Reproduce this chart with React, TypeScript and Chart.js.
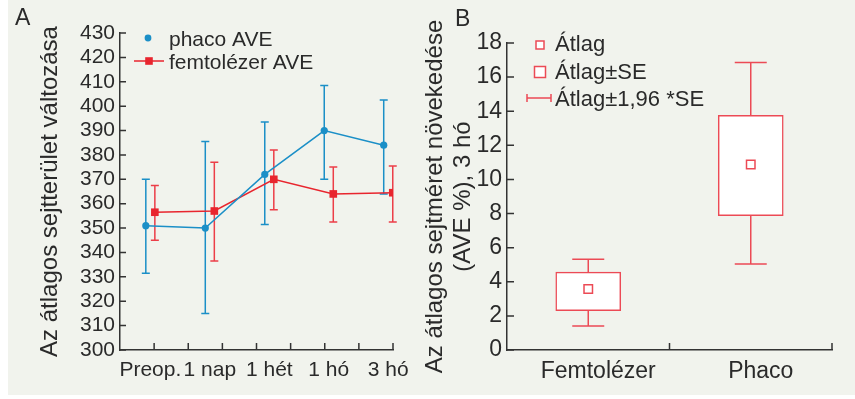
import React, { useEffect, useRef } from 'react';
import { Chart, registerables } from 'chart.js';

Chart.register(...registerables);

const FONT = '"Liberation Sans", Arial, sans-serif';
const BG = '#f1f3ed';
const BLUE = '#1b8fc7';
const RED = '#e8252e';
const RED_B = '#ec4a55';
const AXIS = '#333333';
const TEXT = '#2a2a2a';

// Panel A data
const timepoints = ['Preop.', '1 nap', '1 hét', '1 hó', '3 hó'];
const phacoMean = [351, 350, 372, 390, 384];
const phacoLow = [331.5, 315, 351.5, 370, 364];
const phacoHigh = [370, 385.5, 393.5, 408.5, 402.5];
const femtoMean = [356.5, 357, 370, 364, 364.5];
const femtoLow = [345, 336.5, 357.5, 352.5, 352.5];
const femtoHigh = [367.5, 377, 382, 375, 375.5];

// Panel B data
const groups = ['Femtolézer', 'Phaco'];
const meanB = [3.58, 10.87];
const seLowB = [2.3, 7.88];
const seHighB = [4.57, 13.76];
const ciLowB = [1.4, 5.04];
const ciHighB = [5.32, 16.86];

const SHIFT = 0.076;

const plotA = {
  id: 'plotA',
  beforeDatasetsDraw(chart: any) {
    const { ctx } = chart;
    const x = chart.scales.x;
    const y = chart.scales.y;
    chart.data.datasets.forEach((ds: any) => {
      if (!ds.errLow) return;
      ctx.save();
      ctx.strokeStyle = ds.errColor;
      ctx.lineWidth = 1.5;
      ds.data.forEach((p: any, i: number) => {
        const px = x.getPixelForValue(p.x);
        const yl = y.getPixelForValue(ds.errLow[i]);
        const yh = y.getPixelForValue(ds.errHigh[i]);
        ctx.beginPath();
        ctx.moveTo(px, yl);
        ctx.lineTo(px, yh);
        ctx.moveTo(px - 4, yh);
        ctx.lineTo(px + 4, yh);
        ctx.moveTo(px - 4, yl);
        ctx.lineTo(px + 4, yl);
        ctx.stroke();
      });
      ctx.restore();
    });
  },
  afterDraw(chart: any) {
    const { ctx, chartArea: ca } = chart;
    const y = chart.scales.y;
    ctx.save();
    ctx.strokeStyle = AXIS;
    ctx.lineWidth = 1.5;
    ctx.beginPath();
    y.ticks.forEach((t: any) => {
      const py = y.getPixelForValue(t.value);
      ctx.moveTo(ca.left, py);
      ctx.lineTo(ca.left + 6, py);
    });
    for (let k = 1; k <= 8; k++) {
      const px = ca.left + ((ca.right - ca.left) * k) / 8;
      ctx.moveTo(px, ca.bottom);
      ctx.lineTo(px, ca.bottom - 7);
    }
    ctx.stroke();

    // panel letter
    ctx.fillStyle = TEXT;
    ctx.font = `23px ${FONT}`;
    ctx.textBaseline = 'alphabetic';
    ctx.textAlign = 'left';
    ctx.fillText('A', 7, 25);

    // legend
    ctx.font = `21px ${FONT}`;
    ctx.fillText('phaco AVE', 161, 46);
    ctx.fillText('femtolézer AVE', 161, 69);
    ctx.fillStyle = BLUE;
    ctx.beginPath();
    ctx.arc(140, 38, 3.4, 0, Math.PI * 2);
    ctx.fill();
    ctx.strokeStyle = RED;
    ctx.lineWidth = 1.5;
    ctx.beginPath();
    ctx.moveTo(126, 61);
    ctx.lineTo(156, 61);
    ctx.stroke();
    ctx.fillStyle = RED;
    ctx.fillRect(141 - 3.8, 61 - 3.8, 7.6, 7.6);
    ctx.restore();
  },
};

const plotB = {
  id: 'plotB',
  beforeDatasetsDraw(chart: any) {
    const { ctx } = chart;
    const x = chart.scales.x;
    const y = chart.scales.y;
    ctx.save();
    ctx.strokeStyle = RED_B;
    ctx.lineWidth = 1.5;
    groups.forEach((_, i) => {
      const px = x.getPixelForValue(i);
      const segs = [
        [seHighB[i], ciHighB[i]],
        [seLowB[i], ciLowB[i]],
      ];
      segs.forEach(([a, b]) => {
        const ya = y.getPixelForValue(a);
        const yb = y.getPixelForValue(b);
        ctx.beginPath();
        ctx.moveTo(px, ya);
        ctx.lineTo(px, yb);
        ctx.moveTo(px - 16, yb);
        ctx.lineTo(px + 16, yb);
        ctx.stroke();
      });
    });
    ctx.restore();
  },
  afterDraw(chart: any) {
    const { ctx, chartArea: ca } = chart;
    const x = chart.scales.x;
    const y = chart.scales.y;
    ctx.save();
    ctx.strokeStyle = AXIS;
    ctx.lineWidth = 1.5;
    ctx.beginPath();
    y.ticks.forEach((t: any) => {
      const py = y.getPixelForValue(t.value);
      ctx.moveTo(ca.left, py);
      ctx.lineTo(ca.left + 7, py);
    });
    const mid = (x.getPixelForValue(0) + x.getPixelForValue(1)) / 2;
    [mid, ca.right].forEach((px) => {
      ctx.moveTo(px, ca.bottom);
      ctx.lineTo(px, ca.bottom - 7);
    });
    ctx.stroke();

    ctx.fillStyle = TEXT;
    ctx.font = `23px ${FONT}`;
    ctx.textAlign = 'left';
    ctx.textBaseline = 'alphabetic';
    ctx.fillText('B', 35, 26);

    // legend
    ctx.font = `22px ${FONT}`;
    ctx.fillText('Átlag', 135, 51);
    ctx.fillText('Átlag±SE', 135, 79);
    ctx.fillText('Átlag±1,96 *SE', 135, 106);

    ctx.strokeStyle = RED_B;
    ctx.fillStyle = '#ffffff';
    ctx.lineWidth = 1.5;
    ctx.fillRect(120 - 4, 45 - 4, 8, 8);
    ctx.strokeRect(120 - 4, 45 - 4, 8, 8);
    ctx.fillRect(120 - 5.5, 72 - 5.5, 11, 11);
    ctx.strokeRect(120 - 5.5, 72 - 5.5, 11, 11);
    ctx.beginPath();
    ctx.moveTo(107, 98);
    ctx.lineTo(131, 98);
    ctx.moveTo(107, 94);
    ctx.lineTo(107, 102);
    ctx.moveTo(131, 94);
    ctx.lineTo(131, 102);
    ctx.stroke();
    ctx.restore();
  },
};

function PanelA() {
  const ref = useRef<HTMLCanvasElement>(null);
  useEffect(() => {
    const chart = new Chart(ref.current!, {
      type: 'line',
      data: {
        datasets: [
          {
            label: 'phaco AVE',
            data: phacoMean.map((v, i) => ({ x: i - SHIFT, y: v })),
            borderColor: BLUE,
            backgroundColor: BLUE,
            borderWidth: 1.5,
            pointRadius: 3.6,
            pointStyle: 'circle',
            pointBorderWidth: 0,
            errLow: phacoLow,
            errHigh: phacoHigh,
            errColor: BLUE,
          } as any,
          {
            label: 'femtolézer AVE',
            data: femtoMean.map((v, i) => ({ x: i + SHIFT, y: v })),
            borderColor: RED,
            backgroundColor: RED,
            borderWidth: 1.5,
            pointRadius: 5.4,
            pointStyle: 'rect',
            pointBorderWidth: 0,
            errLow: femtoLow,
            errHigh: femtoHigh,
            errColor: '#ec3e48',
          } as any,
        ],
      },
      options: {
        responsive: false,
        animation: false,
        layout: { padding: { top: 33, right: 27, left: 0, bottom: 0 } },
        plugins: { legend: { display: false }, tooltip: { enabled: false } },
        scales: {
          x: {
            type: 'linear',
            min: -0.51,
            max: 4.08,
            afterBuildTicks: (s: any) => {
              s.ticks = timepoints.map((_, i) => ({ value: i }));
            },
            afterFit: (s: any) => {
              s.height = 45;
            },
            ticks: {
              autoSkip: false,
              maxRotation: 0,
              padding: 8,
              color: TEXT,
              font: { size: 21, family: FONT },
              callback: (_v: any, i: number) => timepoints[i],
            },
            grid: { display: false, drawTicks: false },
            border: { display: true, color: AXIS, width: 1.5 },
          },
          y: {
            min: 300,
            max: 430,
            afterFit: (s: any) => {
              s.width = 112;
            },
            ticks: {
              stepSize: 10,
              autoSkip: false,
              padding: 5,
              color: TEXT,
              font: { size: 21, family: FONT },
            },
            grid: { display: false, drawTicks: false },
            border: { display: true, color: AXIS, width: 1.5 },
            title: {
              display: true,
              text: 'Az átlagos sejtterület változása',
              color: TEXT,
              font: { size: 24, family: FONT },
              padding: { top: 28, bottom: 0 },
            },
          },
        },
      },
      plugins: [plotA],
    });
    return () => chart.destroy();
  }, []);
  return <canvas ref={ref} width={412} height={395} style={{ position: 'absolute', left: 0, top: 0 }} />;
}

function PanelB() {
  const ref = useRef<HTMLCanvasElement>(null);
  useEffect(() => {
    const chart = new Chart(ref.current!, {
      type: 'bar',
      data: {
        labels: groups,
        datasets: [
          {
            type: 'line',
            label: 'Átlag',
            data: meanB,
            showLine: false,
            pointStyle: 'rect',
            pointRadius: 6,
            pointBorderColor: RED_B,
            pointBackgroundColor: '#ffffff',
            pointBorderWidth: 1.5,
          } as any,
          {
            type: 'bar',
            label: 'Átlag±SE',
            data: seLowB.map((l, i) => [l, seHighB[i]]),
            backgroundColor: '#ffffff',
            borderColor: RED_B,
            borderWidth: 1.5,
            borderSkipped: false,
            barThickness: 65,
          } as any,
        ],
      },
      options: {
        responsive: false,
        animation: false,
        layout: { padding: { top: 43, right: 23, left: 0, bottom: 0 } },
        plugins: { legend: { display: false }, tooltip: { enabled: false } },
        scales: {
          x: {
            afterFit: (s: any) => {
              s.height = 45;
            },
            ticks: {
              padding: 8,
              labelOffset: 10,
              color: TEXT,
              font: { size: 23, family: FONT },
            },
            grid: { display: false, drawTicks: false },
            border: { display: true, color: AXIS, width: 1.5 },
          },
          y: {
            min: 0,
            max: 18,
            afterFit: (s: any) => {
              s.width = 87;
            },
            ticks: {
              stepSize: 2,
              autoSkip: false,
              padding: 5,
              color: TEXT,
              font: { size: 23, family: FONT },
            },
            grid: { display: false, drawTicks: false },
            border: { display: true, color: AXIS, width: 1.5 },
            title: {
              display: true,
              text: ['Az átlagos sejtméret növekedése', '(AVE %), 3 hó'],
              color: TEXT,
              font: { size: 24, family: FONT, lineHeight: 1.167 },
              padding: { top: 1, bottom: 0 },
            },
          },
        },
      },
      plugins: [plotB],
    });
    return () => chart.destroy();
  }, []);
  return <canvas ref={ref} width={435} height={395} style={{ position: 'absolute', left: 412, top: 0 }} />;
}

export default function App() {
  return (
    <div
      style={{
        position: 'absolute',
        left: 8,
        top: 0,
        width: 847,
        height: 395,
        background: BG,
        overflow: 'hidden',
      }}
    >
      <PanelA />
      <PanelB />
    </div>
  );
}
